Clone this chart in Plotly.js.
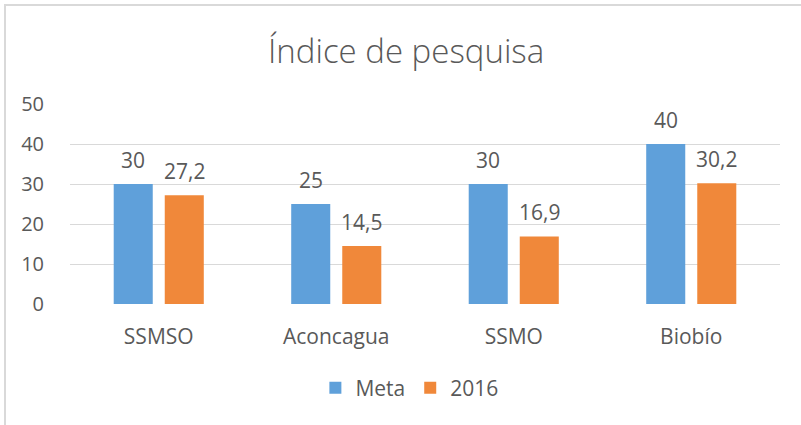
<!DOCTYPE html>
<html>
<head>
<meta charset="utf-8">
<script src="https://cdn.plot.ly/plotly-3.0.1.min.js"></script>
<style>
  html, body { margin: 0; padding: 0; background: #ffffff; }
  #wrap { position: relative; width: 801px; height: 425px; overflow: hidden; }
  #chart { position: absolute; left: 0; top: 0; width: 801px; height: 425px; }
  #frame { position: absolute; left: 4px; top: 4px; width: 820px; height: 440px;
           border-left: 2px solid #d9d9d9; border-top: 2px solid #d9d9d9; pointer-events: none; }
</style>
</head>
<body>
<div id="wrap">
  <div id="chart"></div>
  <div id="frame"></div>
</div>
<script>
const categories = ["SSMSO", "Aconcagua", "SSMO", "Biobío"];
const metaValues = [30, 25, 30, 40];
const values2016 = [27.2, 14.5, 16.9, 30.2];
const seriesNames = ["Meta", "2016"];
const yTicks = [0, 10, 20, 30, 40, 50];

const FONT = "Open Sans, Segoe UI, sans-serif";
const GRAY = "#595959";
const BLUE = "#5FA0DA";
const ORANGE = "#F0883A";
const BARGAP = 0.425;
const GROUPGAP = 0.235;

const fmt = v => String(v).replace(".", ",");

const traces = [
  { type: "bar", name: seriesNames[0], x: categories, y: metaValues,
    marker: { color: BLUE }, hoverinfo: "none" },
  { type: "bar", name: seriesNames[1], x: categories, y: values2016,
    marker: { color: ORANGE }, hoverinfo: "none" }
];

// data labels placed via the axis scales: category index +/- half-slot offset
const slot = (1 - BARGAP) / 2;
const annotations = [];
[metaValues, values2016].forEach((vals, s) => {
  const off = (s === 0 ? -1 : 1) * slot / 2;
  vals.forEach((v, i) => {
    annotations.push({
      xref: "x", yref: "y", x: i + off, y: v, text: fmt(v),
      showarrow: false, yanchor: "bottom", xanchor: "center", yshift: 8,
      font: { family: FONT, size: 21, color: GRAY }
    });
  });
});

const layout = {
  width: 801, height: 425,
  margin: { l: 70, r: 21, t: 104, b: 121, pad: 0 },
  paper_bgcolor: "#ffffff", plot_bgcolor: "#ffffff",
  title: { text: "Índice de pesquisa", x: 0.507, xanchor: "center", y: 0.88, yanchor: "middle",
           font: { family: FONT, size: 33, color: GRAY, weight: 300 } },
  barmode: "group", bargap: BARGAP, bargroupgap: GROUPGAP,
  xaxis: { type: "category", showgrid: false, zeroline: false, showline: false,
           ticks: "outside", ticklen: 0, tickcolor: "rgba(0,0,0,0)", ticklabelstandoff: 14,
           tickfont: { family: FONT, size: 21, color: GRAY }, fixedrange: true },
  yaxis: { range: [0, 50], tickvals: yTicks, ticktext: yTicks.map(String),
           showgrid: true, gridcolor: "#d9d9d9", gridwidth: 1, zeroline: false, showline: false,
           ticks: "outside", ticklen: 0, tickcolor: "rgba(0,0,0,0)", ticklabelstandoff: 21,
           tickfont: { family: FONT, size: 20, color: GRAY }, fixedrange: true },
  showlegend: true,
  legend: { orientation: "h", x: 0.478, xanchor: "center", y: -0.42, yanchor: "middle",
            font: { family: FONT, size: 21, color: GRAY }, itemclick: false, itemdoubleclick: false,
            traceorder: "normal" },
  annotations: annotations
};

Plotly.newPlot("chart", traces, layout, { displayModeBar: false, staticPlot: true });
</script>
</body>
</html>
